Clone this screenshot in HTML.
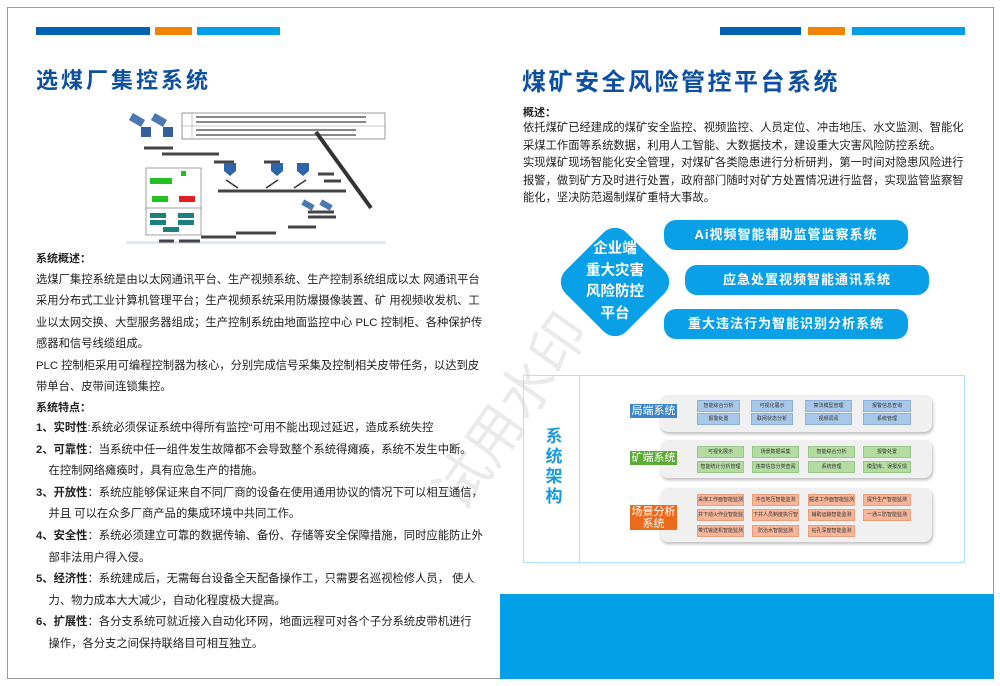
<!DOCTYPE html>
<html><head><meta charset="utf-8"><style>
*{margin:0;padding:0;box-sizing:border-box}
body{width:1000px;height:686px;background:#fff;position:relative;overflow:hidden;font-family:"Liberation Sans","Noto Sans CJK SC",sans-serif;color:#222}
.a{position:absolute}
.frame{left:7px;top:7px;width:987px;height:672px;border:1px solid #9a9a9a}
.t{white-space:nowrap;font-size:11.3px}
.h{font-weight:bold;color:#0d4fa0;font-size:22px;letter-spacing:3px}
.pill{background:#0aa0e8;border-radius:12px;color:#fff;font-weight:bold;font-size:13px;text-align:center;line-height:30px;height:30px;letter-spacing:1px}
.panel{background:#f0f0f0;border-radius:8px;box-shadow:1px 2px 3px #bbb}
.c{font-size:5px;text-align:center;line-height:10px;color:#333;white-space:nowrap;overflow:hidden}
.b{background:#a8c8ea;border:1px solid #8fb0d8}
.g{background:#b4dca0;border:1px solid #98c888}
.o{background:#f7b69a;border:1px solid #eb9c78}
.lab{color:#fff;font-size:11px;text-align:center;line-height:14px}
</style></head><body>
<div class="a frame"></div>
<div class="a" style="left:36px;top:27px;width:114px;height:8px;background:#0062b0"></div>
<div class="a" style="left:155px;top:27px;width:37px;height:8px;background:#f08300"></div>
<div class="a" style="left:197px;top:27px;width:83px;height:8px;background:#00a0e9"></div>
<div class="a" style="left:720px;top:27px;width:81px;height:8px;background:#0062b0"></div>
<div class="a" style="left:808px;top:27px;width:37px;height:8px;background:#f08300"></div>
<div class="a" style="left:852px;top:27px;width:113px;height:8px;background:#00a0e9"></div>
<div class="a h" style="left:36px;top:63px">选煤厂集控系统</div>
<div class="a h" style="left:522px;top:62px;font-size:24px;letter-spacing:2.5px">煤矿安全风险管控平台系统</div>

<svg class="a" style="left:126px;top:110px" width="260" height="135" viewBox="0 0 260 135">
<rect x="0" y="131" width="260" height="3" fill="#dde8f3"/>
<rect x="56" y="3" width="203" height="26" fill="#fff" stroke="#555" stroke-width="0.6"/>
<line x1="56" y1="16" x2="259" y2="16" stroke="#777" stroke-width="0.4"/>
<line x1="66" y1="3" x2="66" y2="29" stroke="#777" stroke-width="0.4"/>
<g fill="#888"><rect x="70" y="6" width="170" height="2"/><rect x="70" y="11" width="170" height="2"/><rect x="70" y="19" width="160" height="2"/><rect x="70" y="24" width="160" height="2"/></g>
<g fill="#4a78b0"><rect x="4" y="6" width="14" height="8" transform="rotate(30 11 10)"/><rect x="26" y="6" width="14" height="8" transform="rotate(30 33 10)"/></g>
<rect x="15" y="17" width="10" height="10" fill="#355f9a"/><rect x="37" y="17" width="10" height="10" fill="#355f9a"/>
<g stroke="#444" stroke-width="3"><line x1="18" y1="38" x2="47" y2="38"/><line x1="36" y1="44" x2="93" y2="44"/><line x1="138" y1="52" x2="154" y2="52"/><line x1="88" y1="52" x2="108" y2="52"/><line x1="150" y1="81" x2="278" y2="81" transform="translate(-58 0)"/><line x1="192" y1="64" x2="208" y2="64"/><line x1="198" y1="71" x2="215" y2="71"/><line x1="182" y1="107" x2="210" y2="107"/><line x1="162" y1="117" x2="190" y2="117"/><line x1="110" y1="123" x2="150" y2="123"/><line x1="75" y1="127" x2="110" y2="127"/><line x1="33" y1="131" x2="48" y2="131"/><line x1="53" y1="131" x2="74" y2="131"/><line x1="142" y1="112" x2="168" y2="112" transform="translate(40 -10)"/></g>
<line x1="190" y1="22" x2="245" y2="98" stroke="#333" stroke-width="4"/>
<g fill="#2f65a8"><path d="M98 53h12v8l-6 5-6-5z"/><path d="M145 53h12v8l-6 5-6-5z"/><path d="M171 53h12v8l-6 5-6-5z"/></g>
<g stroke="#333" stroke-width="1.5"><line x1="100" y1="70" x2="112" y2="78"/><line x1="140" y1="78" x2="152" y2="70"/><line x1="168" y1="78" x2="180" y2="70"/></g>
<rect x="176" y="92" width="12" height="6" fill="#4a78b0" transform="rotate(30 182 95)"/><rect x="194" y="92" width="12" height="6" fill="#4a78b0" transform="rotate(30 200 95)"/>
<rect x="20" y="58" width="55" height="42" fill="#fff" stroke="#666" stroke-width="0.6"/>
<rect x="24" y="68" width="22" height="6" fill="#22c022"/><rect x="55" y="61" width="5" height="5" fill="#22c022"/>
<rect x="26" y="86" width="16" height="6" fill="#22c022"/><rect x="53" y="86" width="16" height="6" fill="#e02020"/>
<rect x="20" y="100" width="55" height="27" fill="#fff" stroke="#666" stroke-width="0.6" transform="translate(0 -2)"/>
<g fill="#1a8080"><rect x="24" y="103" width="16" height="5"/><rect x="52" y="103" width="16" height="5"/><rect x="24" y="110" width="16" height="5"/><rect x="52" y="110" width="16" height="5"/><rect x="37" y="117" width="16" height="5"/></g>
</svg>

<div class="a t" style="left:36px;top:250px;font-weight:bold;font-size:11px">系统概述：</div>
<div class="a t" style="left:36px;top:270px;line-height:21.4px">选煤厂集控系统是由以太网通讯平台、生产视频系统、生产控制系统组成以太 网通讯平台<br>采用分布式工业计算机管理平台；生产视频系统采用防爆摄像装置、矿 用视频收发机、工<br>业以太网交换、大型服务器组成；生产控制系统由地面监控中心 PLC 控制柜、各种保护传<br>感器和信号线缆组成。<br>PLC 控制柜采用可编程控制器为核心，分别完成信号采集及控制相关皮带任务，以达到皮<br>带单台、皮带间连锁集控。</div>
<div class="a t" style="left:36px;top:399px;font-weight:bold;font-size:11px">系统特点：</div>
<div class="a t" style="left:36px;top:418px;line-height:21.6px"><b>1、实时性</b>:系统必须保证系统中得所有监控“可用不能出现过延迟，造成系统失控<br><b>2、可靠性</b>：当系统中任一组件发生故障都不会导致整个系统得瘫痪，系统不发生中断。<br>&nbsp;&nbsp;&nbsp;&nbsp;在控制网络瘫痪时，具有应急生产的措施。<br><b>3、开放性</b>：系统应能够保证来自不同厂商的设备在使用通用协议的情况下可以相互通信，<br>&nbsp;&nbsp;&nbsp;&nbsp;并且 可以在众多厂商产品的集成环境中共同工作。<br><b>4、安全性</b>：系统必须建立可靠的数据传输、备份、存储等安全保障措施，同时应能防止外<br>&nbsp;&nbsp;&nbsp;&nbsp;部非法用户得入侵。<br><b>5、经济性</b>：系统建成后，无需每台设备全天配备操作工，只需要名巡视检修人员， 使人<br>&nbsp;&nbsp;&nbsp;&nbsp;力、物力成本大大减少，自动化程度极大提高。<br><b>6、扩展性</b>：各分支系统可就近接入自动化环网，地面远程可对各个子分系统皮带机进行<br>&nbsp;&nbsp;&nbsp;&nbsp;操作，各分支之间保持联络目可相互独立。</div>

<div class="a t" style="left:523px;top:104px;font-weight:bold;font-size:11px">概述：</div>
<div class="a t" style="left:523px;top:120px;line-height:17.6px;font-size:11.3px">依托煤矿已经建成的煤矿安全监控、视频监控、人员定位、冲击地压、水文监测、智能化<br>采煤工作面等系统数据，利用人工智能、大数据技术，建设重大灾害风险防控系统。<br>实现煤矿现场智能化安全管理，对煤矿各类隐患进行分析研判，第一时间对隐患风险进行<br>报警，做到矿方及时进行处置，政府部门随时对矿方处置情况进行监督，实现监管监察智<br>能化，坚决防范遏制煤矿重特大事故。</div>

<div class="a" style="left:572px;top:239px;width:86px;height:86px;background:#0aa0e8;border-radius:16px;transform:rotate(45deg)"></div>
<div class="a" style="left:575px;top:239px;width:80px;text-align:center;color:#fff;font-weight:bold;font-size:14.5px;line-height:21.5px">企业端<br>重大灾害<br>风险防控<br>平台</div>
<div class="a pill" style="left:664px;top:220px;width:244px">Ai视频智能辅助监管监察系统</div>
<div class="a pill" style="left:685px;top:265px;width:244px">应急处置视频智能通讯系统</div>
<div class="a pill" style="left:664px;top:309px;width:244px">重大违法行为智能识别分析系统</div>

<div class="a" style="font-size:56px;color:rgba(150,150,150,0.2);transform:rotate(-55deg);white-space:nowrap;transform-origin:left top;top:478px;left:410px">试用水印</div>

<div class="a" style="left:523px;top:375px;width:442px;height:188px;border:1.5px solid #aee3fa"></div>
<div class="a" style="left:579px;top:375px;width:1px;height:188px;background:#aee3fa"></div>
<div class="a" style="left:543px;top:427px;width:22px;text-align:center;color:#1a9be0;font-weight:bold;font-size:17px;line-height:20px">系<br>统<br>架<br>构</div>

<div class="a panel" style="left:660px;top:395px;width:272px;height:37px"></div>
<div class="a panel" style="left:660px;top:440px;width:272px;height:38px"></div>
<div class="a panel" style="left:660px;top:488px;width:272px;height:54px"></div>
<div class="a lab" style="left:630px;top:404px;width:47px;height:14px;background:#3d85cc">局端系统</div>
<div class="a lab" style="left:630px;top:451px;width:47px;height:14px;background:#5cab34">矿端系统</div>
<div class="a lab" style="left:630px;top:505px;width:47px;height:25px;background:#ec6a1c;line-height:12px;padding-top:1px">场景分析<br>系统</div>

<div class="a c b" style="left:697px;top:400px;width:43px">智能综合分析</div>
<div class="a c b" style="left:751px;top:400px;width:42px">可视化展示</div>
<div class="a c b" style="left:805px;top:400px;width:47px">算法模型管理</div>
<div class="a c b" style="left:863px;top:400px;width:48px">报警信息查询</div>
<div class="a c b" style="left:697px;top:413px;width:43px">报警处置</div>
<div class="a c b" style="left:751px;top:413px;width:42px">联网状态分析</div>
<div class="a c b" style="left:805px;top:413px;width:47px">视频调阅</div>
<div class="a c b" style="left:863px;top:413px;width:48px">系统管理</div>

<div class="a c g" style="left:697px;top:446px;width:47px">可视化展示</div>
<div class="a c g" style="left:752px;top:446px;width:47px">场景数据采集</div>
<div class="a c g" style="left:808px;top:446px;width:47px">智能综合分析</div>
<div class="a c g" style="left:863px;top:446px;width:48px">报警处置</div>
<div class="a c g" style="left:697px;top:461px;width:47px">智能统计分析管理</div>
<div class="a c g" style="left:752px;top:461px;width:47px">违章信息分类查阅</div>
<div class="a c g" style="left:808px;top:461px;width:47px">系统管理</div>
<div class="a c g" style="left:863px;top:461px;width:48px">模型库、误报反馈</div>

<div class="a c o" style="left:697px;top:494px;width:47px">采煤工作面智能监测</div>
<div class="a c o" style="left:752px;top:494px;width:47px">冲击地压智能监测</div>
<div class="a c o" style="left:808px;top:494px;width:47px">掘进工作面智能监测</div>
<div class="a c o" style="left:863px;top:494px;width:48px">提升生产智能监测</div>
<div class="a c o" style="left:697px;top:509px;width:47px">井下动火作业智能监测</div>
<div class="a c o" style="left:752px;top:509px;width:47px">下井人员制度执行智能监测</div>
<div class="a c o" style="left:808px;top:509px;width:47px">辅助运输智能监测</div>
<div class="a c o" style="left:863px;top:509px;width:48px">一通三防智能监测</div>
<div class="a c o" style="left:697px;top:525px;width:47px">带式输送机智能监测</div>
<div class="a c o" style="left:752px;top:525px;width:47px">防治水智能监测</div>
<div class="a c o" style="left:808px;top:525px;width:47px">钻孔深度智能监测</div>

<div class="a" style="left:500px;top:594px;width:494px;height:85px;background:#03a0e8"></div>
</body></html>
